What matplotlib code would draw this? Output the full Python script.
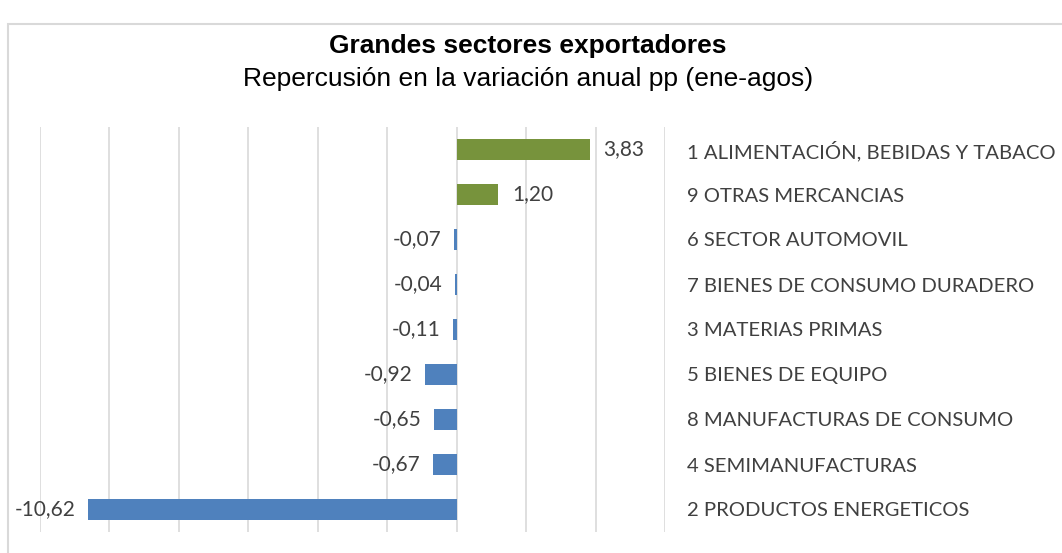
import matplotlib.pyplot as plt
from matplotlib.patches import Rectangle

# datos (de arriba a abajo)
sectores = ['1 ALIMENTACIÓN, BEBIDAS Y TABACO', '9 OTRAS MERCANCIAS', '6 SECTOR AUTOMOVIL',
            '7 BIENES DE CONSUMO DURADERO', '3 MATERIAS PRIMAS', '5 BIENES DE EQUIPO',
            '8 MANUFACTURAS DE CONSUMO', '4 SEMIMANUFACTURAS', '2 PRODUCTOS ENERGETICOS']
repercusion = [3.83, 1.20, -0.07, -0.04, -0.11, -0.92, -0.65, -0.67, -10.62]
ticks_x = [-12, -10, -8, -6, -4, -2, 0, 2, 4, 6]

verde = '#77933C'
azul = '#4F81BD'
gris_txt = '#404040'
fuente = ['Lato', 'DejaVu Sans']

fig = plt.figure(figsize=(10.62, 5.53), dpi=100)

# marco del grafico (estilo Excel)
fig.patches.append(Rectangle((8 / 1062, -0.2), 1.2, 1.2 - 24 / 553,
                             transform=fig.transFigure, fill=False,
                             edgecolor='#D9D9D9', linewidth=1.5))

ax = fig.add_axes([40 / 1062, 1 - 532 / 553, 625 / 1062, 405 / 553])

pos = list(range(len(sectores)))
colores = [verde if v > 0 else azul for v in repercusion]
ax.barh(pos, repercusion, height=0.45, color=colores, zorder=3)

ax.set_xlim(-12, 6)
ax.set_ylim(len(sectores) - 0.5, -0.5)
ax.set_xticks(ticks_x)
ax.set_xticklabels([])
ax.tick_params(axis='x', length=0)
ax.grid(axis='x', color='#D9D9D9', linewidth=1.2, zorder=0)

ax.yaxis.tick_right()
ax.set_yticks(pos)
ax.set_yticklabels(sectores, fontsize=14.6, color=gris_txt, family=fuente)
ax.tick_params(axis='y', length=0, pad=16)

for s in ax.spines.values():
    s.set_visible(False)

# etiquetas de datos
for p, v in zip(pos, repercusion):
    txt = f'{v:.2f}'.replace('.', ',')
    if v > 0:
        ax.annotate(txt, (v, p), xytext=(10, 0), textcoords='offset points',
                    ha='left', va='center', fontsize=15, color=gris_txt, family=fuente)
    else:
        ax.annotate(txt, (v, p), xytext=(-9, 0), textcoords='offset points',
                    ha='right', va='center', fontsize=15, color=gris_txt, family=fuente)

# titulos
fig.text(528 / 1062, 1 - 46 / 553, 'Grandes sectores exportadores', ha='center', va='center',
         fontsize=19, fontweight='bold', family='Liberation Sans')
fig.text(528 / 1062, 1 - 79 / 553, 'Repercusión en la variación anual pp (ene-agos)', ha='center', va='center',
         fontsize=19, family='Liberation Sans')

fig.savefig('out.png', dpi=100)
